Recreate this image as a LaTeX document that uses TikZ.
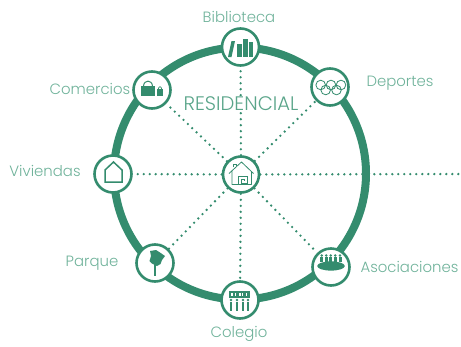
\documentclass[tikz,border=0pt]{standalone}
\usepackage{fontspec}
\setmainfont{Poppins Light}
\definecolor{gr}{HTML}{348C6E}
\definecolor{lab}{HTML}{6FB29A}
\definecolor{tit}{HTML}{5AA58A}
\tikzset{
 x=1pt,y=-1pt,
 hub/.style={circle,draw=gr,line width=2.6pt,fill=white,minimum size=37pt,inner sep=0pt},
 dots/.style={gr,line width=2.6pt,line cap=round,dash pattern=on 0pt off 6pt},
 lbl/.style={text=lab,font=\fontsize{14.9pt}{16pt}\selectfont,inner sep=0pt},
 ico/.style={gr,fill=gr,draw=none},
 icl/.style={gr,draw=gr,line width=.8pt,fill=none}
}
\begin{document}
\begin{tikzpicture}
\useasboundingbox (0,0) rectangle (461,346);
\coordinate (ringc) at (240,173.5);
\coordinate (east) at (461,174);
\draw[gr,line width=8pt] (ringc) circle[radius=126];
\node[hub] (bib) at (240.5,47) {};
\node[hub] (dep) at (330,87) {};
\node[hub] (com) at (152,90) {};
\node[hub] (viv) at (113,174) {};
\node[hub] (par) at (155,263) {};
\node[hub] (col) at (240,300) {};
\node[hub] (aso) at (331,267) {};
\node[hub,minimum size=36pt] (res) at (241,174.5) {};
\foreach \n in {bib,dep,com,viv,par,col,aso,east}
  \draw[dots] (res) -- (\n);
% Labels
\node[lbl] (lbib) at (239,17) {Biblioteca};
\node[lbl] (ldep) at (400,83) {Deportes};
\node[lbl] (lcom) at (90,89) {Comercios};
\node[lbl] (lviv) at (45,171) {Viviendas};
\node[lbl] (lpar) at (92,263) {Parque};
\node[lbl] (laso) at (409.5,267) {Asociaciones};
\node[lbl] (lcol) at (239,334) {Colegio};
\node[lbl,text=tit,font=\fontsize{19.6pt}{22pt}\selectfont,fill=white,inner sep=1pt] (ltit) at (241,104) {RESIDENCIAL};
% Biblioteca icon
\fill[ico] (231.5,41) -- (235,41) -- (231.5,57) -- (228,57) -- cycle;
\fill[ico] (237,44) rectangle (241.5,57);
\fill[ico] (243,39) rectangle (247.5,57);
\fill[ico] (249,42) rectangle (253,57);
% Deportes icon
\foreach \p in {(320.7,85),(331,85),(341,85)}
  \draw[icl] \p circle[radius=4.8];
\foreach \p in {(325.7,90),(336.5,90)}
  \draw[icl] \p circle[radius=4.8];
% Comercios icon
\fill[ico] (141,86) rectangle (155,95.5);
\draw[gr,line width=1pt] (143.5,86) .. controls (144,79.5) and (152,79.5) .. (152.5,86);
\fill[ico] (157,89) rectangle (163,95.5);
\draw[gr,line width=.7pt] (158.3,89) .. controls (158.6,86) and (161.4,86) .. (161.7,89);
% Viviendas icon
\draw[gr,line width=1.5pt,line join=miter] (105,182) -- (105,170) -- (113.5,162) -- (122,170) -- (122,182) -- cycle;
% Residencial icon
\draw[icl,line join=round] (229,173.5) -- (241.5,162) -- (253.5,173.5) (232,171) -- (232,184.5) -- (251.5,184.5) -- (251.5,171);
\draw[icl] (233,167) -- (233,164) -- (236,164) -- (236,166);
\draw[icl] (238,184.5) -- (238,176) -- (247,176) -- (247,183) -- (241,183) -- (241,179) -- (244.5,179) -- (244.5,181);
% Parque icon
\fill[ico] (150,251) -- (156,250) -- (160,252.5) -- (165,256) -- (162,260) -- (160.5,264) -- (157,266) -- (152,263.5) -- (149.5,261) -- (151,256) -- cycle;
\fill[ico] (154,262) rectangle (155.8,276);
% Colegio icon
\fill[ico] (229,291) rectangle (249.5,297.5);
\foreach \px in {231,234.5,239,241.5,245.5}
  \fill[white] (\px,292.7) rectangle ++(1.5,3);
\foreach \px in {231,237,243,248} {
  \fill[ico] (\px,300) circle[radius=1.4];
  \fill[ico] (\px-1.2,302) rectangle (\px+1.2,310.5);
}
% Asociaciones icon
\fill[ico] (331,266) ellipse[x radius=13.8,y radius=4.6];
\foreach \px in {321.7,326.2,330.7,335.2,340} {
  \fill[ico] (\px,255.5) circle[radius=1.4];
  \fill[ico] (\px-1.5,257) rectangle (\px+1.5,261.5);
}
\end{tikzpicture}
\end{document}
